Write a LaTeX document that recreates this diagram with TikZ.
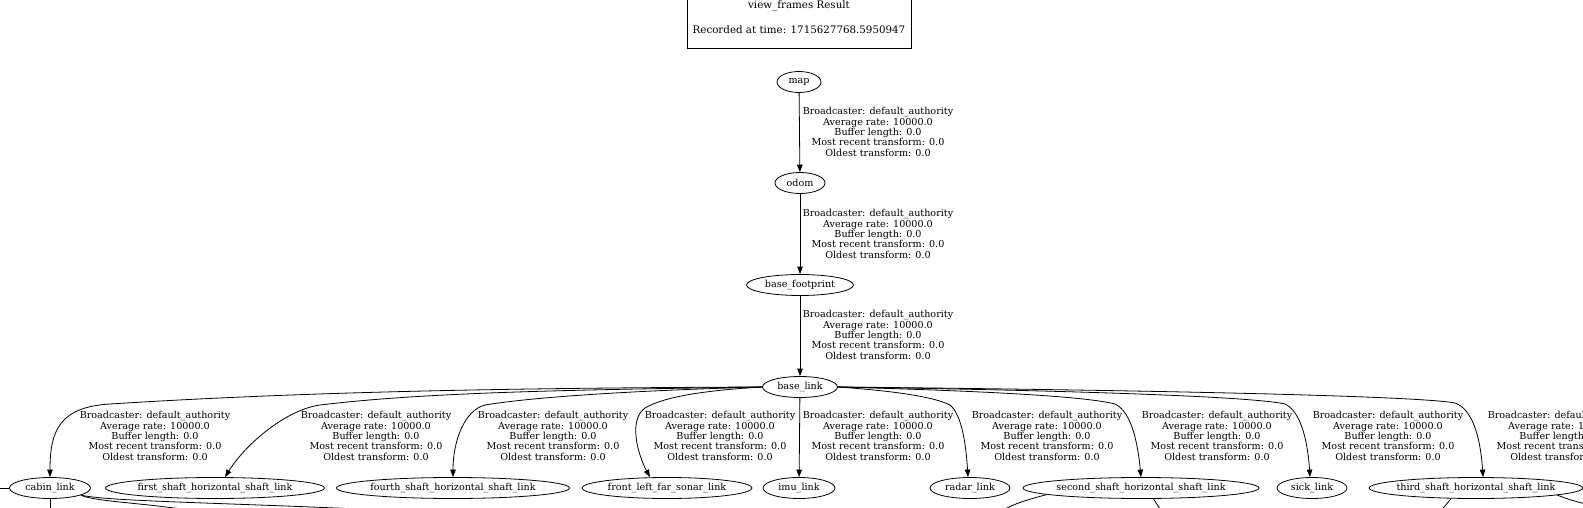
\documentclass[tikz,border=0pt]{standalone}
\usepackage{fontspec}
\setmainfont{DejaVu Serif}
\usetikzlibrary{arrows.meta,shapes.geometric}
\newcommand{\tfstats}{Broadcaster: default\_authority\\Average rate: 10000.0\\Buffer length: 0.0\\Most recent transform: 0.0\\Oldest transform: 0.0}

\begin{document}
\begin{tikzpicture}[x=1pt,y=-1pt,
  font=\fontsize{9.6pt}{10.4pt}\selectfont,
  frame/.style={ellipse,draw,line width=.8pt,inner xsep=-4pt,inner ysep=0pt,minimum height=21pt},
  edge/.style={-{Triangle[length=7.5pt,width=5.5pt]},line width=.8pt},
  stub/.style={line width=.8pt},
  stats/.style={align=center,inner sep=0pt}
]
 \useasboundingbox (0,0) rectangle (1583,508);
 \fill[white] (0,0) rectangle (1583,508);
 \clip (0,0) rectangle (1583,508);

 \node[draw,line width=1pt,minimum width=224pt,minimum height=63pt,align=center,
   inner xsep=2pt,font=\fontsize{10.3pt}{10.4pt}\selectfont]
   (title) at (799,17.5) {view\_frames Result\\[14.6pt]Recorded at time: 1715627768.5950947};

 % chain down to base_link
 \node[frame,minimum width=44pt] (map) at (799,82) {map};
 \node[frame,minimum width=50pt] (odom) at (800,183) {odom};
 \node[frame,minimum width=107pt] (footprint) at (800,285) {base\_footprint};
 \node[frame,minimum width=75pt] (base) at (800,387) {base\_link};

 \node[stats] (lblodom) at (878,132) {\tfstats};
 \node[stats] (lblfoot) at (878,234) {\tfstats};
 \node[stats] (lblbase) at (878,335) {\tfstats};

 \draw[edge] (map) -- (odom);
 \draw[edge] (odom) -- (footprint);
 \draw[edge] (footprint) -- (base);

 % children of base_link
 \node[frame,minimum width=81pt] (cabin) at (50,488) {cabin\_link};
 \node[frame,minimum width=219pt] (firstshaft) at (215,488) {first\_shaft\_horizontal\_shaft\_link};
 \node[frame,minimum width=233pt] (fourthshaft) at (453,488) {fourth\_shaft\_horizontal\_shaft\_link};
 \node[frame,minimum width=170pt] (sonar) at (667,488) {front\_left\_far\_sonar\_link};
 \node[frame,minimum width=72pt] (imu) at (799,488) {imu\_link};
 \node[frame,minimum width=80pt] (radar) at (970,488) {radar\_link};
 \node[frame,minimum width=236pt] (secondshaft) at (1141,488) {second\_shaft\_horizontal\_shaft\_link};
 \node[frame,minimum width=70pt] (sick) at (1312,488) {sick\_link};
 \node[frame,minimum width=212pt] (thirdshaft) at (1476,488) {third\_shaft\_horizontal\_shaft\_link};

 \foreach \xx/\nm in {155/cabin,376/firstshaft,553/fourthshaft,720/sonar,878/imu,
   1047/radar,1217/secondshaft,1388/sick,1563/thirdshaft}
   \node[stats] (lbl\nm) at (\xx,436) {\tfstats};

 \draw[edge] (base.west) .. controls (500,388) and (300,392) .. (110,404)
   .. controls (60,407) and (50,430) .. (cabin.north);
 \draw[edge] (base.west) .. controls (550,390) and (420,393) .. (320,405)
   .. controls (285,410) and (245,445) .. ([xshift=10pt]firstshaft.north);
 \draw[edge] (base.west) .. controls (650,390) and (540,396) .. (485,405)
   .. controls (465,410) and (453,440) .. (fourthshaft.north);
 \draw[edge] (base.west) .. controls (710,390) and (665,396) .. (645,408)
   .. controls (628,420) and (638,455) .. ([xshift=-17pt]sonar.north);
 \draw[edge] (base) -- (imu);
 \draw[edge] (base.east) .. controls (880,390) and (930,395) .. (950,405)
   .. controls (962,415) and (966,445) .. ([xshift=-2pt]radar.north);
 \draw[edge] (base.east) .. controls (950,390) and (1080,395) .. (1115,404)
   .. controls (1132,412) and (1138,445) .. (secondshaft.north);
 \draw[edge] (base.east) .. controls (1050,390) and (1250,396) .. (1285,404)
   .. controls (1302,412) and (1308,445) .. ([xshift=-2pt]sick.north);
 \draw[edge] (base.east) .. controls (1150,390) and (1420,396) .. (1455,403)
   .. controls (1475,410) and (1481,445) .. ([xshift=7pt]thirdshaft.north);

 % edges that leave the visible part
 \coordinate (cabinin) at (-5,488);
 \coordinate (cabindown) at (50,515);
 \coordinate (cabinnear) at (200,512);
 \coordinate (cabinfar) at (420,512);
 \coordinate (secondleft) at (1000,512);
 \coordinate (secondright) at (1162,512);
 \coordinate (thirdleft) at (1440,512);
 \coordinate (thirdright) at (1595,506);
 \draw[stub] (cabinin) -- (cabin.west);
 \draw[stub] (cabin.south) -- (cabindown);
 \draw[stub] (cabin.-13) .. controls (95,502) and (150,503) .. (cabinnear);
 \draw[stub] (cabin.-13) .. controls (110,502) and (250,503) .. (cabinfar);
 \draw[stub] (secondshaft.184) .. controls (1030,499) and (1012,504) .. (secondleft);
 \draw[stub] (secondshaft.-41) -- (secondright);
 \draw[stub] (thirdshaft.203) -- (thirdleft);
 \draw[stub] (thirdshaft.-5) .. controls (1570,500) and (1580,503) .. (thirdright);
\end{tikzpicture}
\end{document}
